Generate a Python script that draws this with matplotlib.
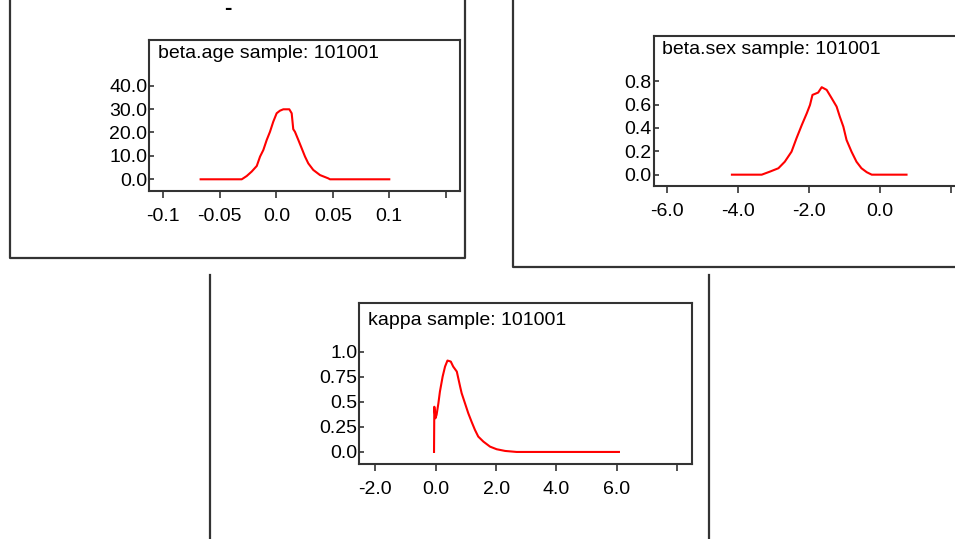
import numpy as np
import matplotlib
matplotlib.use('Agg')
import matplotlib.pyplot as plt
from matplotlib.lines import Line2D

plt.rcParams['font.family'] = ['Liberation Sans', 'DejaVu Sans']

W, H = 955, 539

# beta.age density
age_x = [-0.067, -0.0306, -0.0262, -0.0218, -0.0173, -0.0144, -0.0115, -0.0085, -0.0056,
         -0.0027, 0.0003, 0.0032, 0.0062, 0.0115, 0.0136, 0.0150, 0.0165, 0.0195, 0.0225,
         0.0254, 0.0283, 0.0327, 0.0387, 0.0460, 0.0475, 0.100]
age_y = [0, 0, 1.4, 3.3, 5.7, 9.7, 12.5, 16.8, 20.3, 24.6, 28.2, 29.3, 29.9, 29.9, 28.2,
         21.4, 20.3, 16.8, 13.2, 9.7, 6.8, 4.0, 1.8, 0.4, 0, 0]

# beta.sex density
sex_x = [-4.17, -3.33, -3.10, -2.86, -2.68, -2.49, -2.35, -2.20, -2.06, -1.97, -1.90, -1.74,
         -1.64, -1.50, -1.36, -1.22, -1.13, -1.03, -0.94, -0.80, -0.66, -0.52, -0.37, -0.23, 0.75]
sex_y = [0, 0, 0.026, 0.055, 0.111, 0.197, 0.312, 0.426, 0.526, 0.597, 0.683, 0.703,
         0.749, 0.726, 0.655, 0.583, 0.497, 0.411, 0.297, 0.197, 0.111, 0.055, 0.021, 0, 0]

# kappa density
kappa_x = [-0.055, -0.045, -0.01, 0.03, 0.09, 0.14, 0.23, 0.31, 0.39, 0.50, 0.58, 0.70, 0.81,
           0.86, 0.97, 1.08, 1.19, 1.30, 1.41, 1.58, 1.80, 2.02, 2.30, 2.68, 6.07]
kappa_y = [0, 0.45, 0.335, 0.37, 0.485, 0.60, 0.75, 0.85, 0.91, 0.90, 0.85, 0.80, 0.65,
           0.585, 0.485, 0.385, 0.30, 0.22, 0.153, 0.103, 0.053, 0.027, 0.01, 0, 0]

age_xticks = [-0.1, -0.05, 0.0, 0.05, 0.1, 0.15]
age_xlabels = ['-0.1', '-0.05', '0.0', '0.05', '0.1', '']
age_yticks = [0, 10, 20, 30, 40]
age_ylabels = ['0.0', '10.0', '20.0', '30.0', '40.0']

sex_xticks = [-6, -4, -2, 0, 2]
sex_xlabels = ['-6.0', '-4.0', '-2.0', '0.0', '']
sex_yticks = [0, 0.2, 0.4, 0.6, 0.8]
sex_ylabels = ['0.0', '0.2', '0.4', '0.6', '0.8']

kappa_xticks = [-2, 0, 2, 4, 6, 8]
kappa_xlabels = ['-2.0', '0.0', '2.0', '4.0', '6.0', '']
kappa_yticks = [0, 0.25, 0.5, 0.75, 1.0]
kappa_ylabels = ['0.0', '0.25', '0.5', '0.75', '1.0']

titles = ['beta.age sample: 101001', 'beta.sex sample: 101001', 'kappa sample: 101001']

fig = plt.figure(figsize=(W / 100, H / 100), dpi=100)
edge = '#333333'
fs = 14


def box(l, t, r, b):
    # pixel box (top origin) -> figure fraction rect
    return [l / W, 1 - b / H, (r - l) / W, (b - t) / H]


def fline(xs, ys):
    fig.add_artist(Line2D([x / W for x in xs], [1 - y / H for y in ys],
                          color=edge, lw=1.6, solid_capstyle='projecting'))


def panel(rect, x, y, xlim, ylim, xt, xl, yt, yl, title, toff):
    ax = fig.add_axes(rect)
    ax.plot(x, y, color='red', lw=1.5)
    ax.set_xlim(xlim)
    ax.set_ylim(ylim)
    ax.set_xticks(xt)
    ax.set_xticklabels(xl)
    ax.set_yticks(yt)
    ax.set_yticklabels(yl)
    ax.tick_params(axis='x', direction='out', length=5, width=1.2, pad=7.5,
                   labelsize=fs, color=edge)
    ax.tick_params(axis='y', direction='in', length=3.6, width=1.2, pad=1.2,
                   labelsize=fs, color=edge)
    for s in ax.spines.values():
        s.set_color(edge)
        s.set_linewidth(1.5)
    ax.annotate(title, xy=(0, 1), xycoords='axes fraction', xytext=toff,
                textcoords='offset pixels', va='center', ha='left', fontsize=fs)
    return ax


panel(box(149, 40, 460, 191), age_x, age_y, (-0.1127, 0.1626), (-5.0, 59.5),
      age_xticks, age_xlabels, age_yticks, age_ylabels, titles[0], (9, -13.5))
panel(box(653.5, 35.7, 964, 186), sex_x, sex_y, (-6.38, 2.37), (-0.097, 1.19),
      sex_xticks, sex_xlabels, sex_yticks, sex_ylabels, titles[1], (8, -14))
panel(box(359, 303.3, 692.3, 464), kappa_x, kappa_y, (-2.54, 8.50), (-0.12, 1.48),
      kappa_xticks, kappa_xlabels, kappa_yticks, kappa_ylabels, titles[2], (9, -17))

# outer window frames
fline([10, 10, 465, 465], [-5, 258, 258, -5])
fline([513, 513, 960], [-5, 266.5, 266.5])
fline([209.5, 209.5], [275, 545])
fline([709, 709], [275, 545])

# stray dash left from a cut-off label at the top
fig.text(227.5 / W, 1 - 9 / H, '-', ha='center', va='center', fontsize=16, fontweight='bold')

fig.savefig('out.png', dpi=100)
